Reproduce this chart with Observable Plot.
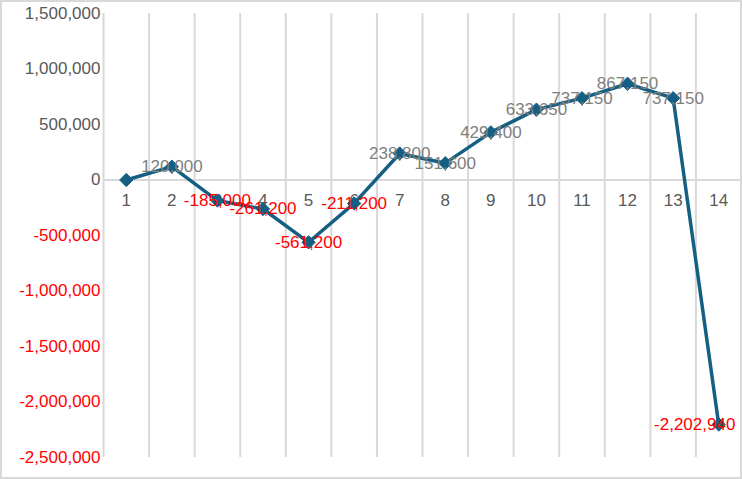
<!DOCTYPE html>
<html>
<head>
<meta charset="utf-8">
<script src="https://cdn.jsdelivr.net/npm/d3@7"></script>
<script src="https://cdn.jsdelivr.net/npm/@observablehq/plot@0.6"></script>
<style>
  html, body { margin: 0; padding: 0; background: #fff; }
  #chart svg { display: block; outline: 2px solid #d9d9d9; outline-offset: -2px; }
</style>
</head>
<body>
<div id="chart"></div>
<script>
const categories = [1, 2, 3, 4, 5, 6, 7, 8, 9, 10, 11, 12, 13, 14];
const values = [0, 120000, -185000, -261200, -561200, -211200, 238800, 151600, 429400, 633650, 737150, 867150, 737150, -2202940];
const yTicks = [1500000, 1000000, 500000, 0, -500000, -1000000, -1500000, -2000000, -2500000];

const locale = d3.formatLocale({ decimal: ".", thousands: ",", grouping: [3], currency: ["", ""], minus: "-" });
const fmt = locale.format(",");
const data = categories.map((c, i) => ({ cat: c, value: values[i], label: values[i] === 0 ? "" : fmt(values[i]) }));
const boundaries = [categories[0] - 0.5, ...categories.map(c => c + 0.5)];
const font = "'Liberation Sans', Arial, sans-serif";

const chart = Plot.plot({
  width: 742,
  height: 479,
  marginLeft: 103,
  marginRight: 1,
  marginTop: 13,
  marginBottom: 22,
  style: { fontFamily: font, background: "#fff" },
  x: { domain: [categories[0] - 0.5, categories[categories.length - 1] + 0.5], axis: null },
  y: { domain: [yTicks[yTicks.length - 1], yTicks[0]], axis: null },
  marks: [
    Plot.ruleX(boundaries, { x: d => d, stroke: "#d9d9d9", strokeWidth: 2 }),
    Plot.ruleY([0], { stroke: "#d9d9d9", strokeWidth: 2 }),
    Plot.text(yTicks, {
      y: d => d, frameAnchor: "left", dx: -3, textAnchor: "end",
      text: d => fmt(d), fill: d => d < 0 ? "#ff0000" : "#595959",
      fontSize: 17
    }),
    Plot.text(categories, {
      x: d => d, y: 0, dy: 21, text: d => String(d), fill: "#595959", fontSize: 17
    }),
    Plot.line(data, { x: "cat", y: "value", stroke: "#156082", strokeWidth: 3.5 }),
    Plot.dot(data, { x: "cat", y: "value", symbol: "diamond2", r: 6, fill: "#156082", stroke: "#156082", strokeWidth: 1 }),
    Plot.text(data.slice(0, -1), {
      x: "cat", y: "value", text: "label",
      fill: d => d.value < 0 ? "#ff0000" : "#7f7f7f", fontSize: 17
    }),
    Plot.text(data.slice(-1), {
      x: "cat", y: "value", text: "label", dx: -24,
      fill: d => d.value < 0 ? "#ff0000" : "#7f7f7f", fontSize: 17
    })
  ]
});
document.getElementById("chart").appendChild(chart);
</script>
</body>
</html>
